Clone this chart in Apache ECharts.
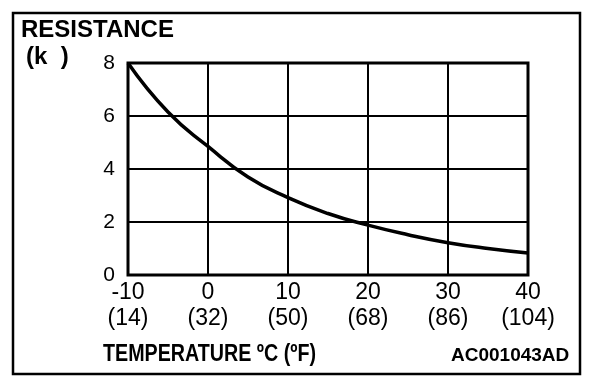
<!DOCTYPE html>
<html><head><meta charset="utf-8">
<script src="https://cdn.jsdelivr.net/npm/echarts@6/dist/echarts.min.js"></script>
<style>html,body{margin:0;padding:0;background:#fff}#c{width:608px;height:384px}</style>
</head><body><div id="c"></div>
<script>
const tempC = [-10, -5, 0, 5, 10, 15, 20, 25, 30, 35, 40];
const resistance = [8.0, 6.15, 4.85, 3.7, 2.92, 2.32, 1.88, 1.52, 1.22, 1.0, 0.83];
const xTicksC = [-10, 0, 10, 20, 30, 40];
const xTicksF = ['14', '32', '50', '68', '86', '104'];
const yTicks = [0, 2, 4, 6, 8];

const chart = echarts.init(document.getElementById('c'), null, {renderer: 'canvas'});
const font = 'Liberation Sans, Arial, sans-serif';
chart.setOption({
  animation: false,
  backgroundColor: '#fff',
  grid: {left: 128, right: 80, top: 63, bottom: 109, show: true, borderColor: '#000', borderWidth: 3, backgroundColor: 'transparent'},
  xAxis: {
    type: 'value', min: -10, max: 40, interval: 10,
    axisLine: {show: false}, axisTick: {show: false},
    splitLine: {show: true, lineStyle: {color: '#000', width: 2}},
    axisLabel: {
      color: '#000', fontFamily: font, fontSize: 23, lineHeight: 26, margin: 5,
      formatter: v => { const i = xTicksC.indexOf(v); return i < 0 ? '' : v + '\n(' + xTicksF[i] + ')'; }
    }
  },
  yAxis: {
    type: 'value', min: 0, max: 8, interval: 2,
    axisLine: {show: false}, axisTick: {show: false},
    splitLine: {show: true, lineStyle: {color: '#000', width: 2}},
    axisLabel: {color: '#000', fontFamily: font, fontSize: 21, margin: 13,
      formatter: v => yTicks.indexOf(v) < 0 ? '' : String(v)}
  },
  series: [{
    type: 'line', smooth: true, showSymbol: false,
    data: tempC.map((t, i) => [t, resistance[i]]),
    lineStyle: {color: '#000', width: 3.5}
  }],
  graphic: [
    {type: 'rect', shape: {x: 13, y: 13, width: 567, height: 361}, style: {fill: 'none', stroke: '#000', lineWidth: 2.5}, z: 10},
    {type: 'text', left: 21, top: 18, style: {text: 'RESISTANCE', font: 'bold 24px ' + font, fill: '#000'}},
    {type: 'text', left: 26, top: 45, style: {text: '(k  )', font: 'bold 24px ' + font, fill: '#000'}},
    {type: 'text', x: 103, y: 342, scaleX: 0.82, style: {text: 'TEMPERATURE ºC (ºF)', font: 'bold 24px ' + font, fill: '#000', verticalAlign: 'top', align: 'left'}},
    {type: 'text', left: 451, top: 346, style: {text: 'AC001043AD', font: 'bold 19px ' + font, fill: '#000'}}
  ]
});
</script></body></html>
